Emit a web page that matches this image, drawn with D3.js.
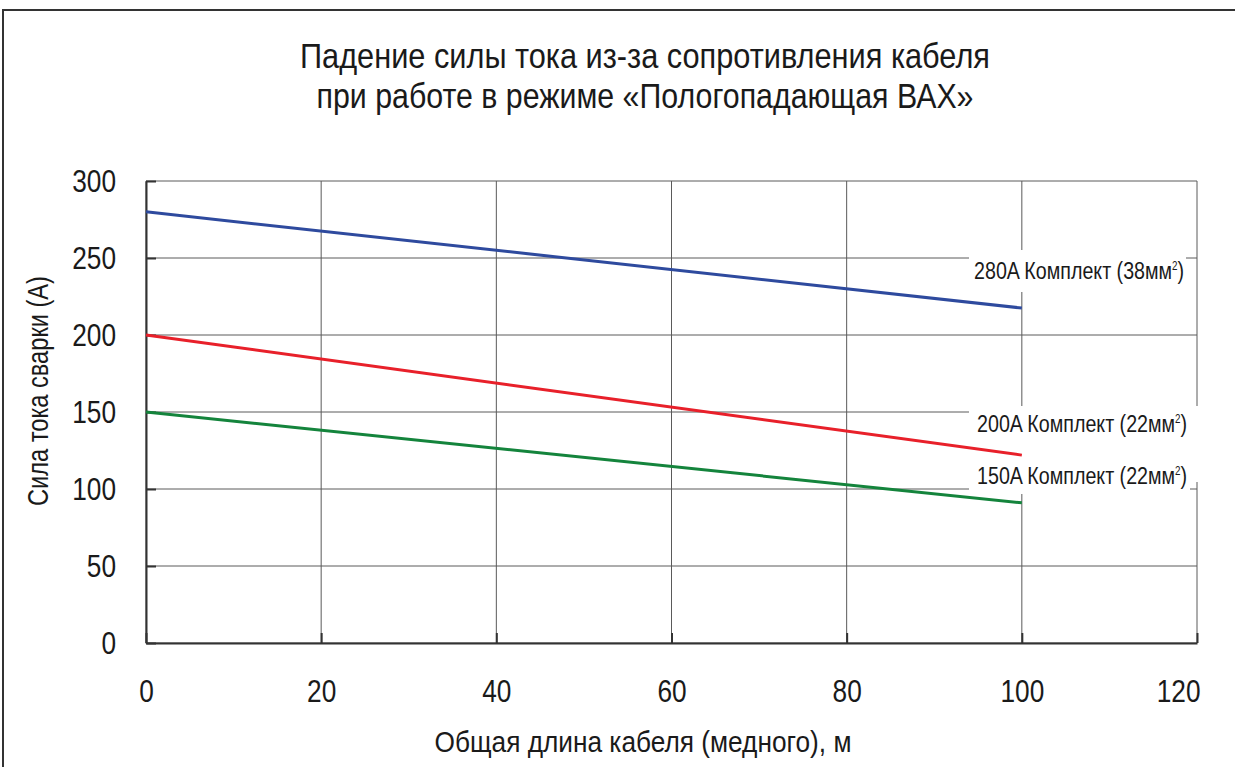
<!DOCTYPE html>
<html>
<head>
<meta charset="utf-8">
<script src="https://cdn.jsdelivr.net/npm/d3@7"></script>
<style>
  body { margin: 0; background: #fff; }
  text { font-family: "Liberation Sans", Arial, sans-serif; fill: #1a1a1a; }
</style>
</head>
<body>
<svg id="chart"></svg>
<script>
var titleLines = ["Падение силы тока из-за сопротивления кабеля",
                  "при работе в режиме «Пологопадающая ВАХ»"],
    xLabel = "Общая длина кабеля (медного), м",
    yLabel = "Сила тока сварки (А)",
    xTicks = [0, 20, 40, 60, 80, 100, 120],
    yTicks = [0, 50, 100, 150, 200, 250, 300],
    lengths = [0, 100],
    current280 = [280, 217.5],
    current200 = [200, 122],
    current150 = [150, 91],
    seriesNames = ["280A Комплект (38мм", "200A Комплект (22мм", "150A Комплект (22мм"],
    seriesColors = ["#2e4a9e", "#e8202a", "#14843c"];

var width = 1235, height = 767,
    margin = {top: 181, right: 38, bottom: 124, left: 146},
    innerWidth = width - margin.left - margin.right,
    innerHeight = height - margin.top - margin.bottom;

var xScale = d3.scaleLinear().domain([0, 120]).range([0, innerWidth]),
    yScale = d3.scaleLinear().domain([0, 300]).range([innerHeight, 0]);

var svg = d3.select("#chart").attr("width", width).attr("height", height);

// squeeze Liberation Sans to look like a narrow face
function narrow(sel, k) {
  sel.each(function(){
    var w = this.getComputedTextLength();
    d3.select(this).attr("textLength", w * k).attr("lengthAdjust", "spacingAndGlyphs");
  });
}

// outer frame
svg.append("rect")
  .attr("x", 3).attr("y", 10)
  .attr("width", width + 10).attr("height", height + 10)
  .attr("fill", "none").attr("stroke", "#333").attr("stroke-width", 2);

var title = svg.append("g").selectAll("text")
  .data(titleLines).enter()
  .append("text")
    .attr("x", 645)
    .attr("y", function(d, i){ return 68 + i * 40; })
    .attr("text-anchor", "middle")
    .style("font-size", "35px")
    .text(function(d){ return d; });
title.attr("textLength", function(d, i){ return i == 0 ? 690 : 657; })
  .attr("lengthAdjust", "spacingAndGlyphs");

var g = svg.append("g")
  .attr("transform", "translate(" + margin.left + "," + margin.top + ")");

// grid
g.append("g").selectAll("line")
  .data(yTicks).enter().append("line")
    .attr("x1", 0).attr("x2", innerWidth)
    .attr("y1", function(d){ return yScale(d); })
    .attr("y2", function(d){ return yScale(d); })
    .attr("stroke", "#5a5a5a").attr("stroke-width", 1);

g.append("g").selectAll("line")
  .data(xTicks).enter().append("line")
    .attr("x1", function(d){ return xScale(d); })
    .attr("x2", function(d){ return xScale(d); })
    .attr("y1", 0).attr("y2", innerHeight)
    .attr("stroke", "#5a5a5a").attr("stroke-width", 1);

// axes
var yAxis = d3.axisLeft(yScale).tickValues(yTicks).tickSizeInner(-10).tickSizeOuter(0).tickPadding(30),
    xAxis = d3.axisBottom(xScale).tickValues(xTicks).tickSizeInner(-10).tickSizeOuter(0);

var ya = g.append("g").call(yAxis);
var xa = g.append("g").attr("transform", "translate(0," + innerHeight + ")").call(xAxis);
xa.selectAll(".tick text").attr("y", 59).attr("dy", null);
// last label sits inside the frame, right-aligned
xa.selectAll(".tick text").filter(function(d){ return d == 120; })
  .attr("text-anchor", "end").attr("x", 3);
[ya, xa].forEach(function(a){
  a.select(".domain").attr("stroke", "#333").attr("stroke-width", 2);
  a.selectAll(".tick line").attr("stroke", "#333").attr("stroke-width", 2);
  a.selectAll(".tick text").style("font-size", "32px").attr("fill", "#1a1a1a")
    .style("font-family", "'Liberation Sans', Arial, sans-serif")
    .call(narrow, 0.82);
});

// white boxes behind the series labels
var boxes = [[969, 1186, 250, 292], [969, 1200, 406, 482], [969, 1190, 462, 494]];
g.append("g").selectAll("rect")
  .data(boxes).enter().append("rect")
    .attr("x", function(d){ return d[0] - margin.left; })
    .attr("y", function(d){ return d[2] - margin.top; })
    .attr("width", function(d){ return d[1] - d[0]; })
    .attr("height", function(d){ return d[3] - d[2]; })
    .attr("fill", "#fff");

// series lines
var series = [current280, current200, current150];
var line = d3.line()
  .x(function(d, i){ return xScale(lengths[i]); })
  .y(function(d){ return yScale(d); });

g.append("g").selectAll("path")
  .data(series).enter().append("path")
    .attr("d", function(d){ return line(d); })
    .attr("fill", "none")
    .attr("stroke", function(d, i){ return seriesColors[i]; })
    .attr("stroke-width", 3);

var labelBase = [279, 432, 484];
var labels = svg.append("g").selectAll("g")
  .data(seriesNames).enter().append("g")
    .attr("transform", function(d, i){
      return "translate(" + (i == 0 ? 974 : 977) + "," + labelBase[i] + ") scale(0.82,1)";
    });

var lt = labels.append("text")
  .style("font-size", "24px");
lt.append("tspan").text(function(d){ return d; });
lt.append("tspan").attr("dy", -9).style("font-size", "12px").text("2");
lt.append("tspan").attr("dy", 9).text(")");

svg.append("text")
  .attr("x", 643).attr("y", 752)
  .attr("text-anchor", "middle")
  .style("font-size", "30px")
  .attr("textLength", 417).attr("lengthAdjust", "spacingAndGlyphs")
  .text(xLabel);

svg.append("text")
  .attr("transform", "translate(48,391) rotate(-90)")
  .attr("text-anchor", "middle")
  .style("font-size", "30px")
  .attr("textLength", 230).attr("lengthAdjust", "spacingAndGlyphs")
  .text(yLabel);
</script>
</body>
</html>
